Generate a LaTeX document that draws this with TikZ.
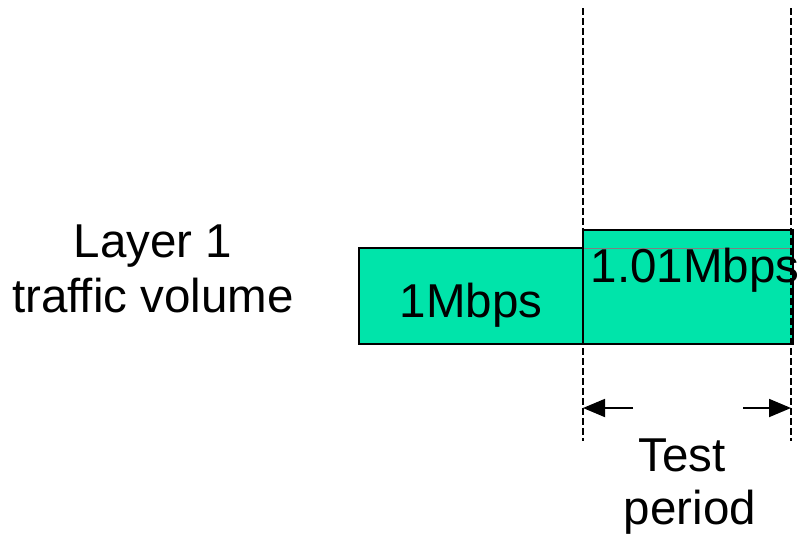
\documentclass[tikz,border=0pt]{standalone}
\usepackage{fontspec}
\setmainfont{Liberation Sans}
\usetikzlibrary{arrows.meta}
\definecolor{barfill}{RGB}{0,228,170}
\begin{document}
\begin{tikzpicture}[x=1pt,y=-1pt,
  lbl/.style={font=\fontsize{47.5}{55}\selectfont, inner sep=0pt, anchor=base},
  bar/.style={draw=black, line width=1.8pt, fill=barfill},
  guide/.style={draw=black, line width=1.5pt, dash pattern=on 7pt off 3pt},
  dim/.style={draw=black, line width=1.8pt, -{Triangle[length=22pt,width=18pt]}}]
\useasboundingbox (0,0) rectangle (799,536);
% bars
\path[bar] (359,248) rectangle (583,344);
\path[bar] (583,230) rectangle (793,344);
\draw[gray, line width=0.7pt] (583,248) -- (791,248);
% guide lines
\coordinate (g1t) at (583,8);
\coordinate (g1b) at (583,441);
\coordinate (g2t) at (791,8);
\coordinate (g2b) at (791,441);
\path[guide] (g1t) -- (g1b);
\path[guide] (g2t) -- (g2b);
% dimension arrows
\coordinate (a1s) at (633,408);
\coordinate (a1e) at (583,408);
\coordinate (a2s) at (743,408);
\coordinate (a2e) at (791,408);
\path[dim] (a1s) -- (a1e);
\path[dim] (a2s) -- (a2e);
% labels
\node[lbl] (layer) at (153,257) {Layer 1};
\node[lbl] (traffic) at (153,312) {traffic volume};
\node[lbl] (one) at (471,317) {1Mbps};
\node[lbl] (onezeroone) at (695,282) {1.01Mbps};
\node[lbl] (test) at (682,471) {Test};
\node[lbl] (period) at (690,524) {period};
\end{tikzpicture}
\end{document}
